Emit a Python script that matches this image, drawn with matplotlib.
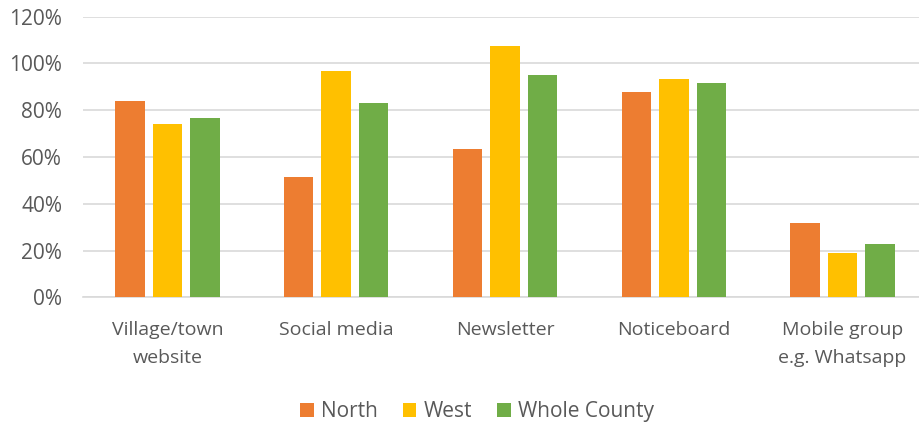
import matplotlib
matplotlib.use("Agg")
import matplotlib.pyplot as plt
import numpy as np
from matplotlib.ticker import FuncFormatter

categories = ["Village/town\nwebsite", "Social media", "Newsletter", "Noticeboard", "Mobile group\ne.g. Whatsapp"]
series_names = ["North", "West", "Whole County"]
north = [84.0, 51.4, 63.5, 87.7, 31.6]
west = [73.9, 96.6, 107.5, 93.2, 18.8]
whole = [76.8, 83.3, 94.9, 91.7, 22.8]
colors = ["#ED7D31", "#FFC000", "#70AD47"]

plt.rcParams['font.family'] = ['Open Sans', 'DejaVu Sans']

fig = plt.figure(figsize=(9.2, 4.26), dpi=100)
# plot area: x 83..927 px, y 17..297 px
ax = fig.add_axes([83/920, 1 - 297.3/426, (927-83)/920, (297.3-16.7)/426])

x = np.arange(len(categories))
w = 0.175
off = 0.222
for i, (vals, name) in enumerate(zip([north, west, whole], series_names)):
    ax.bar(x + (i - 1) * off, vals, width=w, color=colors[i], label=name, zorder=3)

ax.set_xlim(-0.5, len(categories) - 0.5)
ax.set_ylim(0, 120)
ax.set_yticks(np.arange(0, 121, 20))
ax.yaxis.set_major_formatter(FuncFormatter(lambda v, p: f"{int(v)}%"))
ax.grid(axis='y', color='#d9d9d9', linewidth=1.2, zorder=0)
ax.set_axisbelow(True)
for s in ['top', 'right', 'left']:
    ax.spines[s].set_visible(False)
ax.spines['bottom'].set_color('#d9d9d9')
ax.spines['bottom'].set_linewidth(1.2)
ax.tick_params(axis='x', length=0, colors='#595959', labelsize=14, pad=17)
ax.tick_params(axis='y', length=0, colors='#595959', labelsize=15, pad=15)
ax.set_xticks(x)
ax.set_xticklabels(categories, linespacing=1.7)

fig.legend(loc='center', bbox_to_anchor=(477/920, 1 - 411.5/426), ncol=3, frameon=False,
           fontsize=15, handlelength=0.65, handleheight=0.65, handletextpad=0.35,
           columnspacing=1.2, labelcolor='#595959')

fig.savefig("out.png", dpi=100)
